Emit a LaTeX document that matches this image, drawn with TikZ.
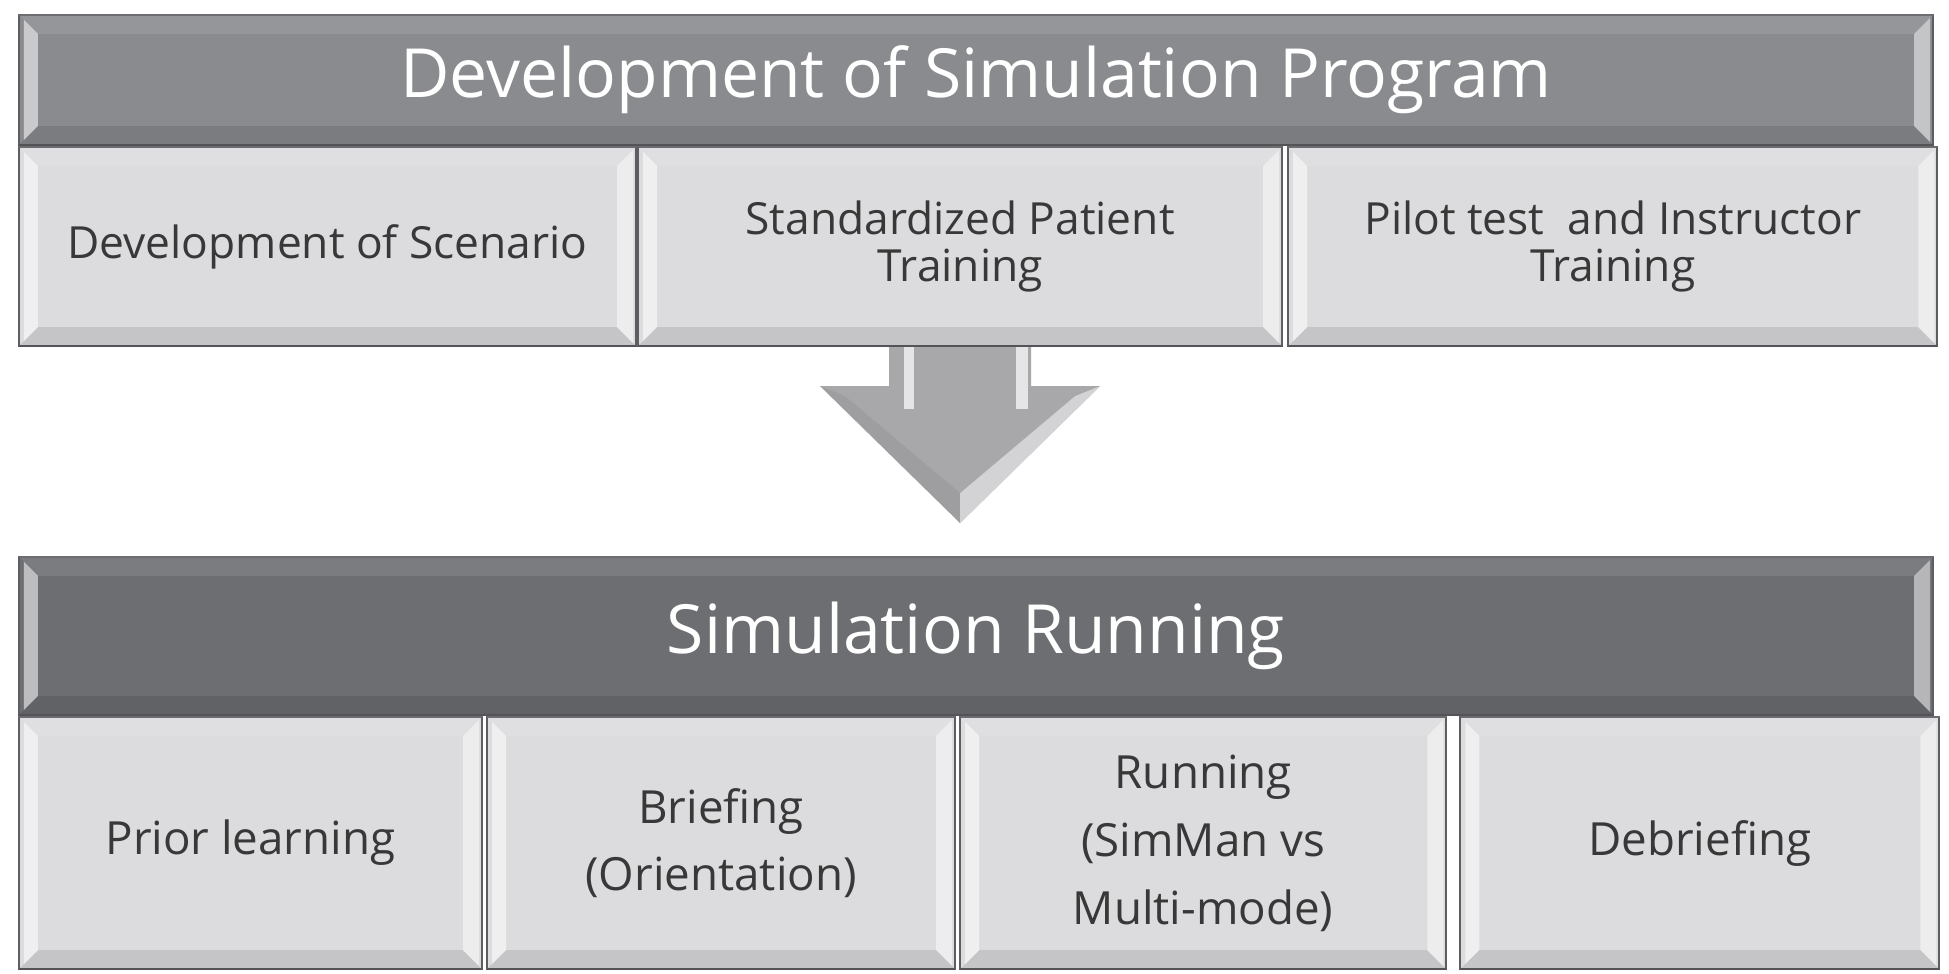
\documentclass[tikz,border=0pt]{standalone}
\usepackage{fontspec}
\setmainfont{Open Sans}
\usetikzlibrary{positioning}
\usetikzlibrary{calc}

\definecolor{hdrtop}{HTML}{8A8B8F}
\definecolor{hdrlow}{HTML}{6D6E72}
\definecolor{subfill}{HTML}{DCDCDE}
\definecolor{edgegray}{HTML}{5E5E62}
\definecolor{arrowgray}{HTML}{A8A8AB}
\definecolor{txtgray}{HTML}{383838}

% bevel on a named box: #1 node, #2 bevel width
\newcommand{\bevel}[2]{%
  \fill[white,opacity=0.1] (#1.north west) -- (#1.north east) -- ($(#1.north east)+(-#2,-#2)$) -- ($(#1.north west)+(#2,-#2)$) -- cycle;
  \fill[black,opacity=0.1] (#1.south west) -- (#1.south east) -- ($(#1.south east)+(-#2,#2)$) -- ($(#1.south west)+(#2,#2)$) -- cycle;
  \fill[white,opacity=0.55] ($(#1.north west)+(0.06,-0.06)$) -- ($(#1.north west)+(#2,-#2)$) -- ($(#1.south west)+(#2,#2)$) -- ($(#1.south west)+(0.06,0.06)$) -- cycle;
  \fill[white,opacity=0.5] ($(#1.north east)+(-0.04,-0.04)$) -- ($(#1.north east)+(-#2,-#2)$) -- ($(#1.south east)+(-#2,#2)$) -- ($(#1.south east)+(-0.04,0.04)$) -- cycle;
}

\tikzset{
  box/.style={draw=edgegray, line width=0.6pt, inner sep=0pt, align=center},
  hdrbox/.style={box, text=white, font=\fontsize{19.3}{23}\selectfont},
  upbox/.style={box, fill=subfill, minimum height=1.99cm, text=txtgray, font=\fontsize{12.6}{13.4}\selectfont},
  lowbox/.style={box, fill=subfill, minimum height=2.52cm, text=txtgray, font=\fontsize{13}{19.3}\selectfont},
}

\begin{document}
\begin{tikzpicture}
\useasboundingbox (0,0) rectangle (19.49,9.74);
\fill[white] (0,0) rectangle (19.49,9.74);

% development stage
\node[hdrbox, fill=hdrtop, minimum width=19.14cm, minimum height=1.30cm] (devprog) at (9.76,8.94) {Development of Simulation Program};
\node[upbox, minimum width=6.17cm, anchor=north west] (scen) at (devprog.south west) {Development of Scenario};
\node[upbox, minimum width=6.44cm, right=0pt of scen] (sptrain) {Standardized Patient\\Training};
\node[upbox, minimum width=6.49cm, right=0.04cm of sptrain] (pilot) {Pilot test\ \ and Instructor\\Training};

\bevel{devprog}{0.2}
\bevel{scen}{0.2}
\bevel{sptrain}{0.2}
\bevel{pilot}{0.2}

% running stage
\node[hdrbox, fill=hdrlow, minimum width=19.14cm, minimum height=1.58cm] (simrun) at (9.76,3.38) {Simulation Running};
\node[lowbox, minimum width=4.63cm, anchor=north west] (prior) at (simrun.south west) {Prior learning};
\node[lowbox, minimum width=4.68cm, right=0.03cm of prior] (brief) {Briefing\\(Orientation)};
\node[lowbox, minimum width=4.86cm, right=0.03cm of brief] (running) {Running\\(SimMan vs\\Multi-mode)};
\node[lowbox, minimum width=4.79cm, right=0.12cm of running] (debrief) {Debriefing};

\bevel{simrun}{0.2}
\bevel{prior}{0.2}
\bevel{brief}{0.2}
\bevel{running}{0.2}
\bevel{debrief}{0.2}

% block arrow
\coordinate (tip) at ($(sptrain.south)+(0,-1.76)$);
\fill[arrowgray] ($(sptrain.south)+(-0.71,0)$) -- ++(0,-0.39) -- ++(-0.69,0) -- (tip)
  -- ($(sptrain.south)+(1.40,-0.39)$) -- ++(-0.69,0) -- ($(sptrain.south)+(0.71,0)$) -- cycle;
\fill[white,opacity=0.7] ($(sptrain.south)+(-0.56,0)$) rectangle ($(sptrain.south)+(-0.46,-0.62)$);
\fill[white,opacity=0.7] ($(sptrain.south)+(0.56,0)$) rectangle ($(sptrain.south)+(0.68,-0.62)$);
\fill[black,opacity=0.06] ($(sptrain.south)+(-1.40,-0.39)$) -- ($(sptrain.south)+(-1.15,-0.49)$) -- ($(tip)+(0,0.3)$) -- (tip) -- cycle;
\fill[white,opacity=0.5] ($(sptrain.south)+(1.40,-0.39)$) -- ($(sptrain.south)+(1.15,-0.49)$) -- ($(tip)+(0,0.3)$) -- (tip) -- cycle;
\end{tikzpicture}
\end{document}
